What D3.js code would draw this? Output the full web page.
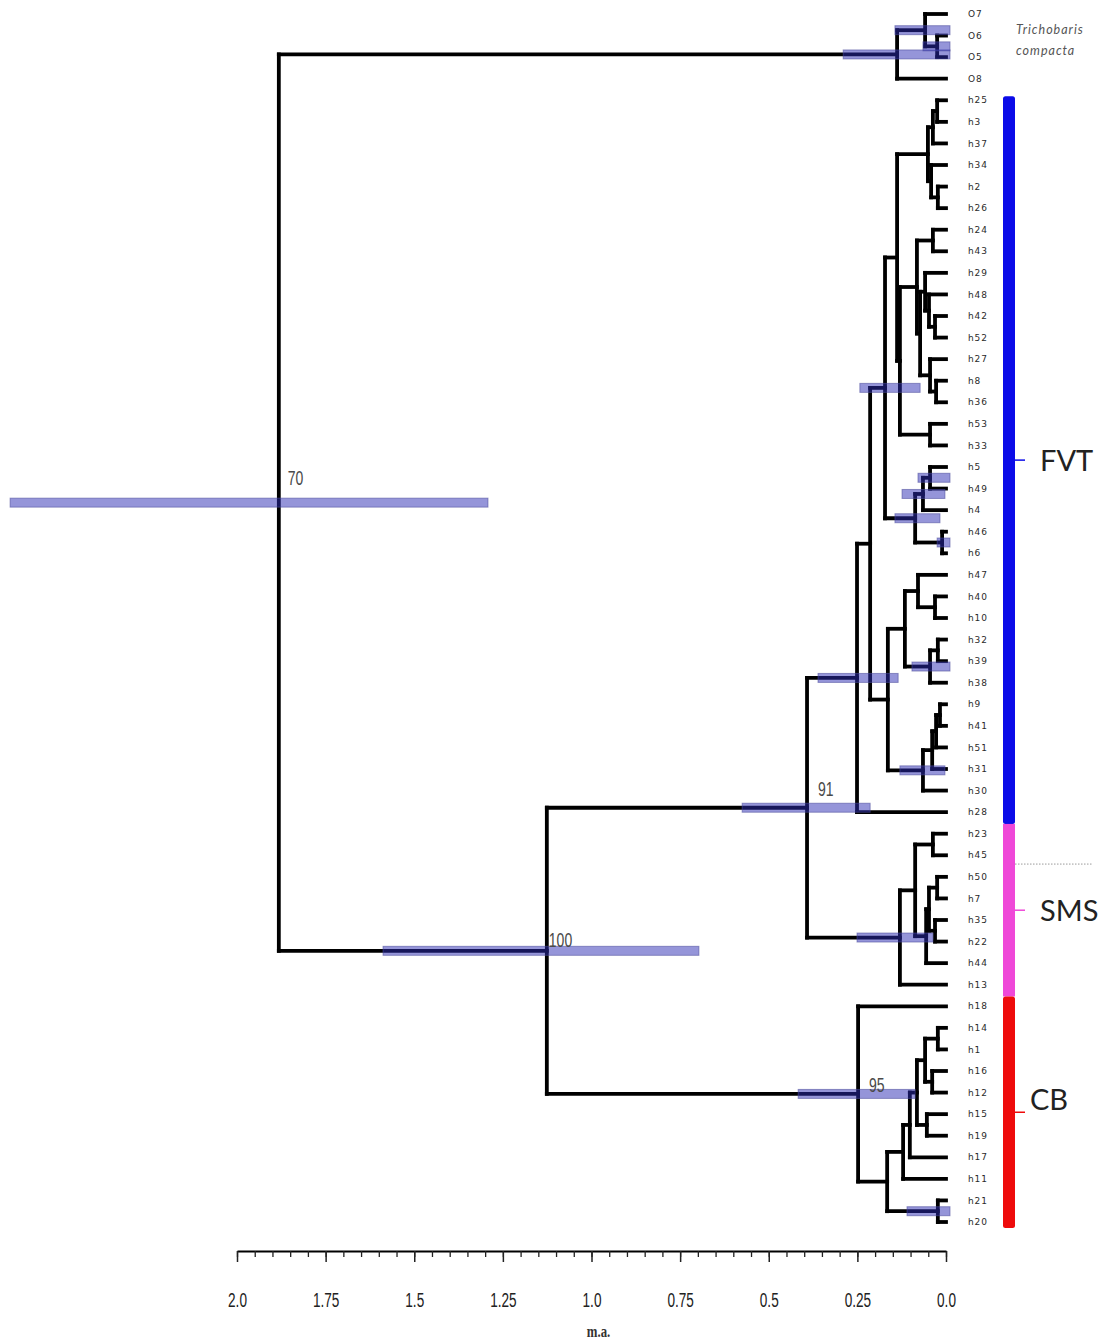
<!DOCTYPE html>
<html>
<head>
<meta charset="utf-8">
<script src="https://cdn.jsdelivr.net/npm/d3@7"></script>
<style>
  body { margin: 0; background: #fff; }
  svg { display: block; }
</style>
</head>
<body>
<svg id="chart" width="1115" height="1342"></svg>
<script>
// Tip order, top to bottom
const leafNames = [
  "O7", "O6", "O5", "O8",
  "h25", "h3", "h37", "h34", "h2", "h26", "h24", "h43", "h29", "h48", "h42", "h52",
  "h27", "h8", "h36", "h53", "h33", "h5", "h49", "h4", "h46", "h6", "h47", "h40",
  "h10", "h32", "h39", "h38", "h9", "h41", "h51", "h31", "h30", "h28",
  "h23", "h45", "h50", "h7", "h35", "h22", "h44", "h13",
  "h18", "h14", "h1", "h16", "h12", "h15", "h19", "h17", "h11", "h21", "h20"
];

// Internal nodes: [id, upper child, lower child, age (m.a.), 95% HPD low, 95% HPD high]
const clades = [
  ["o56", "O6", "O5", 0.025, 0, 0.065],
  ["o756", "O7", "o56", 0.059, 0, 0.144],
  ["out", "o756", "O8", 0.138, 0, 0.29],

  ["a1", "h25", "h3", 0.025],
  ["a2", "a1", "h37", 0.037],
  ["a3", "h2", "h26", 0.023],
  ["a4", "h34", "a3", 0.042],
  ["c1", "a2", "a4", 0.051],
  ["b1", "h24", "h43", 0.037],
  ["b2", "h42", "h52", 0.031],
  ["b3", "h48", "b2", 0.048],
  ["b4", "h29", "b3", 0.059],
  ["b5", "h8", "h36", 0.028],
  ["b6", "h27", "b5", 0.045],
  ["c2b", "b4", "b6", 0.073],
  ["c2", "b1", "c2b", 0.082],
  ["c3", "h53", "h33", 0.045],
  ["u1b", "c2", "c3", 0.130],
  ["u1", "c1", "u1b", 0.138],
  ["d1", "h5", "h49", 0.045, 0, 0.079],
  ["u2a", "d1", "h4", 0.065, 0.003, 0.124],
  ["d2", "h46", "h6", 0.011, 0, 0.025],
  ["u2", "u2a", "d2", 0.087, 0.017, 0.144],
  ["u", "u1", "u2", 0.172, 0.073, 0.243],
  ["e1", "h40", "h10", 0.031],
  ["l1a", "h47", "e1", 0.079],
  ["e2", "h32", "h39", 0.023],
  ["l1b", "e2", "h38", 0.045, 0, 0.096],
  ["l1", "l1a", "l1b", 0.116],
  ["f1", "h9", "h41", 0.017],
  ["f2", "f1", "h51", 0.028],
  ["f3", "f2", "h31", 0.039],
  ["l2", "f3", "h30", 0.065, 0.003, 0.130],
  ["l", "l1", "l2", 0.164],
  ["fvt", "u", "l", 0.214],
  ["a", "fvt", "h28", 0.251, 0.135, 0.361],

  ["s1a", "h23", "h45", 0.037],
  ["s2", "h50", "h7", 0.025],
  ["s3", "h35", "h22", 0.031],
  ["s1b1", "s2", "s3", 0.048],
  ["s1b", "s1b1", "h44", 0.056],
  ["s1", "s1a", "s1b", 0.087],
  ["sms", "s1", "h13", 0.130, 0.037, 0.251],
  ["n91", "a", "sms", 0.392, 0.214, 0.575],

  ["g1", "h14", "h1", 0.023],
  ["g2", "h16", "h12", 0.039],
  ["g3", "g1", "g2", 0.059],
  ["g4", "h15", "h19", 0.054],
  ["c1a1", "g3", "g4", 0.082],
  ["c1a", "c1a1", "h17", 0.102],
  ["cc1", "c1a", "h11", 0.121],
  ["cc2", "h21", "h20", 0.023, 0, 0.110],
  ["cc", "cc1", "cc2", 0.166],
  ["cb", "h18", "cc", 0.248, 0.087, 0.417],

  ["ingroup", "n91", "cb", 1.126, 0.697, 1.588],
  ["root", "out", "ingroup", 1.882, 1.292, 2.640]
];

// Posterior support (%) shown on selected nodes
const supportNodes = ["root", "ingroup", "n91", "cb"];
const supportValues = [70, 100, 91, 95];

// Time axis
const majorTicks = [2.0, 1.75, 1.5, 1.25, 1.0, 0.75, 0.5, 0.25, 0.0];
const tickLabels = ["2.0", "1.75", "1.5", "1.25", "1.0", "0.75", "0.5", "0.25", "0.0"];
const axisTitle = "m.a.";

// Lineage groups: name, first tip, last tip
const groupNames = ["FVT", "SMS", "CB"];
const groupFirst = ["h25", "h23", "h18"];
const groupLast = ["h28", "h13", "h20"];
const outgroupName = ["Trichobaris", "compacta"];

// ---------- styles ----------
const groupColors = ["#0b0be8", "#ef48d8", "#ee0b0b"];
const labelNudge = { root: [9, -18], ingroup: [2, -4], n91: [11, -12], cb: [11, -2] };
const narrow = "'Liberation Sans', Arial, sans-serif";

const svg = d3.select("#chart");

// ---------- build the tree ----------
const byId = new Map();
leafNames.forEach(n => byId.set(n, { name: n, height: 0 }));
clades.forEach(([id, , , h, lo, hi]) => {
  byId.set(id, { name: id, height: h, hpd: lo === undefined ? null : [lo, hi] });
});
clades.forEach(([id, c1, c2]) => { byId.get(id).children = [byId.get(c1), byId.get(c2)]; });
const root = d3.hierarchy(byId.get("root"));

const x = d3.scaleLinear().domain([0, 2]).range([946, 237]);
const y = d3.scalePoint().domain(leafNames).range([14, 1222]);

root.eachAfter(n => {
  if (!n.children) n.py = y(n.data.name);
  else n.py = (n.children[0].py + n.children[n.children.length - 1].py) / 2;
  n.px = x(n.data.height);
});

// ---------- branches ----------
const gB = svg.append("g")
  .attr("stroke", "#000").attr("stroke-width", 3.8)
  .attr("stroke-linecap", "square").attr("fill", "none");

root.descendants().filter(n => n.parent).forEach(n => {
  gB.append("line")
    .attr("x1", n.parent.px).attr("x2", n.px)
    .attr("y1", n.py).attr("y2", n.py);
});
root.descendants().filter(n => n.children).forEach(n => {
  gB.append("line")
    .attr("x1", n.px).attr("x2", n.px)
    .attr("y1", n.children[0].py).attr("y2", n.children[n.children.length - 1].py);
});

// ---------- node age intervals ----------
const gH = svg.append("g");
root.descendants().filter(n => n.data.hpd).forEach(n => {
  const [lo, hi] = n.data.hpd;
  const x0 = x(hi), x1 = x(lo) + (lo === 0 ? 4 : 0);
  gH.append("rect")
    .attr("x", x0).attr("y", n.py - 4.5)
    .attr("width", x1 - x0).attr("height", 9)
    .attr("fill", "#2b2bb4").attr("fill-opacity", 0.5)
    .attr("stroke", "#4a4a9a").attr("stroke-opacity", 0.55).attr("stroke-width", 1);
});

// ---------- support values ----------
const nodeById = new Map(root.descendants().map(n => [n.data.name, n]));
supportNodes.forEach((id, i) => {
  const n = nodeById.get(id);
  const [dx, dy] = labelNudge[id];
  svg.append("g")
    .attr("transform", `translate(${n.px + dx},${n.py + dy}) scale(0.7,1)`)
    .append("text")
    .attr("font-family", narrow)
    .attr("font-size", 20).attr("fill", "#4a4a4a")
    .text(supportValues[i]);
});

// ---------- tip labels ----------
svg.append("g")
  .selectAll("text").data(root.leaves()).join("text")
  .attr("x", x(0) + 22).attr("y", d => d.py).attr("dy", "0.35em")
  .attr("font-family", "'DejaVu Sans', sans-serif")
  .attr("font-size", 9).attr("letter-spacing", 0.9).attr("fill", "#2a2a2a")
  .text(d => d.data.name);

// ---------- time axis ----------
const axisY = 1251;
const minorTicks = d3.range(0, 40.5).map(i => i * 0.05);
svg.append("g")
  .attr("transform", `translate(0,${axisY})`)
  .call(d3.axisBottom(x).tickValues(minorTicks).tickSize(6).tickSizeOuter(0).tickFormat(""))
  .call(g => g.select(".domain").attr("stroke-width", 2))
  .call(g => g.selectAll(".tick line").attr("stroke-width", 1.3).attr("stroke", "#222"));

svg.append("g")
  .attr("transform", `translate(0,${axisY})`)
  .call(d3.axisBottom(x).tickValues(majorTicks).tickSize(11).tickPadding(31)
    .tickFormat((d, i) => tickLabels[i]))
  .call(g => g.select(".domain").remove())
  .call(g => g.selectAll(".tick line").attr("stroke-width", 1.5).attr("stroke", "#222"))
  .call(g => g.selectAll(".tick text")
    .attr("font-family", narrow)
    .attr("font-size", 20).attr("fill", "#222")
    .attr("transform", "scale(0.68,1)"));

svg.append("g")
  .attr("transform", `translate(${x(0.98)},1337) scale(0.8,1)`)
  .append("text")
  .attr("text-anchor", "middle")
  .attr("font-family", "'Liberation Serif', serif")
  .attr("font-size", 16).attr("font-weight", "bold").attr("fill", "#333")
  .text(axisTitle);

// ---------- lineage bars ----------
const barX = 1003, barW = 12;
const bounds = groupNames.map((g, i) => {
  const top = i === 0 ? y(groupFirst[i]) - 4 : (y(groupFirst[i]) + y(groupLast[i - 1])) / 2 + 1;
  const bot = i === groupNames.length - 1 ? y(groupLast[i]) + 6 : (y(groupLast[i]) + y(groupFirst[i + 1])) / 2 + 1;
  return [top, bot];
});
groupNames.forEach((g, i) => {
  const [top, bot] = bounds[i];
  svg.append("rect")
    .attr("x", barX).attr("y", top).attr("width", barW).attr("height", bot - top)
    .attr("rx", (i === 0 || i === groupNames.length - 1) ? 2.5 : 0)
    .attr("fill", groupColors[i]);
  const mid = (top + bot) / 2;
  svg.append("line")
    .attr("x1", barX + barW).attr("x2", barX + barW + 10)
    .attr("y1", mid).attr("y2", mid)
    .attr("stroke", groupColors[i]).attr("stroke-width", 1.5);
  svg.append("text")
    .attr("x", barX + barW + (g === "CB" ? 15 : 25)).attr("y", mid + (g === "CB" ? -13 : 0))
    .attr("dy", "0.36em")
    .attr("font-family", "Lato, 'Open Sans', sans-serif")
    .attr("font-size", 29).attr("fill", "#222")
    .text(g);
});
// faint dotted rule beside the SMS block
svg.append("line")
  .attr("x1", barX + barW).attr("x2", barX + barW + 77)
  .attr("y1", (y("h45") + y("h50")) / 2 - 2).attr("y2", (y("h45") + y("h50")) / 2 - 2)
  .attr("stroke", "#9a9a9a").attr("stroke-width", 1).attr("stroke-dasharray", "1.5,1.5");

// ---------- outgroup name ----------
const og = svg.append("text")
  .attr("x", barX + barW + 1).attr("y", 34)
  .attr("font-family", "Lato, 'Open Sans', sans-serif")
  .attr("font-style", "italic").attr("font-size", 12.5)
  .attr("letter-spacing", 1).attr("fill", "#555");
og.append("tspan").attr("x", barX + barW + 1).attr("y", 34).text(outgroupName[0]);
og.append("tspan").attr("x", barX + barW + 1).attr("y", 55).text(outgroupName[1]);
</script>
</body>
</html>
